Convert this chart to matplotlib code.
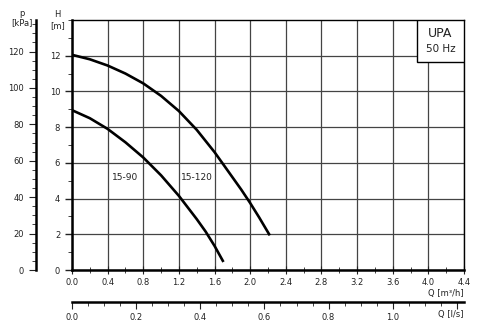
import numpy as np
import matplotlib.pyplot as plt
from matplotlib.ticker import MultipleLocator, FixedLocator

# pump curves (Q in m3/h, H in m)
q_1590 = [0.0, 0.2, 0.4, 0.6, 0.8, 1.0, 1.2, 1.3, 1.4, 1.5, 1.6, 1.7]
h_1590 = [8.95, 8.5, 7.9, 7.15, 6.3, 5.3, 4.15, 3.5, 2.85, 2.15, 1.35, 0.45]

q_15120 = [0.0, 0.2, 0.4, 0.6, 0.8, 1.0, 1.2, 1.4, 1.6, 1.8, 1.9, 2.0, 2.1, 2.22]
h_15120 = [12.05, 11.8, 11.45, 11.0, 10.45, 9.75, 8.9, 7.85, 6.6, 5.2, 4.5, 3.75, 2.95, 1.94]

q_ticks = [0.0, 0.4, 0.8, 1.2, 1.6, 2.0, 2.4, 2.8, 3.2, 3.6, 4.0, 4.4]
h_ticks = [0, 2, 4, 6, 8, 10, 12]
p_ticks = [0, 20, 40, 60, 80, 100, 120]
ls_ticks = [0.0, 0.2, 0.4, 0.6, 0.8, 1.0, 1.2]
ls_labels = ["0.0", "0.2", "0.4", "0.6", "0.8", "1.0", ""]

QMAX = 4.4
HMAX = 14
RHO_G = 9.81  # kPa per m
M3H_PER_LS = 3.6

txt = "#222222"
plt.rcParams["font.family"] = "DejaVu Sans"

fig = plt.figure(figsize=(4.93, 3.34), dpi=100)
W, Hf = 493, 334
x0, x1 = 72, 464
y0, y1 = 270, 20

ax = fig.add_axes([x0 / W, 1 - y0 / Hf, (x1 - x0) / W, (y0 - y1) / Hf])
ax.set_xlim(0, QMAX)
ax.set_ylim(0, HMAX)
ax.xaxis.set_major_locator(FixedLocator(q_ticks))
ax.xaxis.set_minor_locator(MultipleLocator(0.2))
ax.set_xticklabels([f"{v:.1f}" for v in q_ticks])
ax.set_yticks(h_ticks)
ax.yaxis.set_minor_locator(MultipleLocator(1))
ax.grid(which="major", color="#444444", lw=0.9)
for s in ax.spines.values():
    s.set_color("black")
    s.set_linewidth(1.0)
ax.spines["left"].set_linewidth(1.8)
ax.spines["bottom"].set_linewidth(1.8)
ax.tick_params(axis="both", which="both", labelsize=6, colors=txt)
ax.tick_params(axis="x", which="major", direction="inout", length=6, pad=3)
ax.tick_params(axis="x", which="minor", direction="inout", length=4)
ax.tick_params(axis="y", which="major", direction="out", length=5, width=1)
ax.tick_params(axis="y", which="minor", direction="out", length=3)

ax.plot(q_1590, h_1590, color="black", lw=1.9, solid_capstyle="butt", solid_joinstyle="round")
ax.plot(q_15120, h_15120, color="black", lw=1.9, solid_capstyle="butt", solid_joinstyle="round")
ax.text(0.6, 5.2, "15-90", fontsize=6.5, color=txt, ha="center", va="center")
ax.text(1.4, 5.2, "15-120", fontsize=6.5, color=txt, ha="center", va="center")

ax.text(-0.16, 14.3, "H", fontsize=6, color=txt, ha="center", va="center", clip_on=False)
ax.text(-0.16, 13.7, "[m]", fontsize=6, color=txt, ha="center", va="center", clip_on=False)
ax.text(QMAX, -1.3, "Q [m³/h]", fontsize=6, color=txt, ha="right", va="center", clip_on=False)

# UPA box in the top right corner
ax.add_patch(plt.Rectangle((3.87, 11.65), QMAX - 3.87, HMAX - 11.65, facecolor="white",
                           edgecolor="black", lw=1.0, zorder=3))
ax.text(4.135, 13.25, "UPA", fontsize=9, color=txt, ha="center", va="center", zorder=4)
ax.text(4.135, 12.4, "50 Hz", fontsize=7.5, color=txt, ha="center", va="center", zorder=4)

# pressure axis on the far left
px = 36
axp = fig.add_axes([px / W, 1 - y0 / Hf, 0.0001, (y0 - y1) / Hf])
axp.set_ylim(0, HMAX * RHO_G)
axp.set_yticks(p_ticks)
axp.yaxis.set_minor_locator(MultipleLocator(5))
axp.set_xticks([])
for k in ["top", "right", "bottom"]:
    axp.spines[k].set_visible(False)
axp.spines["left"].set_linewidth(1.8)
axp.tick_params(axis="y", which="major", direction="out", length=5, labelsize=6, colors=txt)
axp.tick_params(axis="y", which="minor", direction="out", length=3, colors=txt)
fig.text(22 / W, 1 - 13 / Hf, "p", fontsize=6, color=txt, ha="center", va="center")
fig.text(22 / W, 1 - 23 / Hf, "[kPa]", fontsize=6, color=txt, ha="center", va="center")

# flow axis in l/s below
ly = 302
axl = fig.add_axes([x0 / W, 1 - ly / Hf, (x1 - x0) / W, 0.0001])
axl.set_xlim(0, QMAX / M3H_PER_LS)
axl.set_xticks(ls_ticks)
axl.set_xticklabels(ls_labels)
axl.xaxis.set_minor_locator(MultipleLocator(0.05))
axl.set_yticks([])
for k in ["top", "right", "left"]:
    axl.spines[k].set_visible(False)
axl.spines["bottom"].set_linewidth(1.8)
axl.tick_params(axis="x", which="major", direction="out", length=5, labelsize=6, colors=txt, pad=3)
axl.tick_params(axis="x", which="minor", direction="out", length=3, colors=txt)
fig.text(x1 / W, 1 - 315 / Hf, "Q [l/s]", fontsize=6, color=txt, ha="right", va="center")

fig.savefig("out.png", dpi=100, facecolor="white")
